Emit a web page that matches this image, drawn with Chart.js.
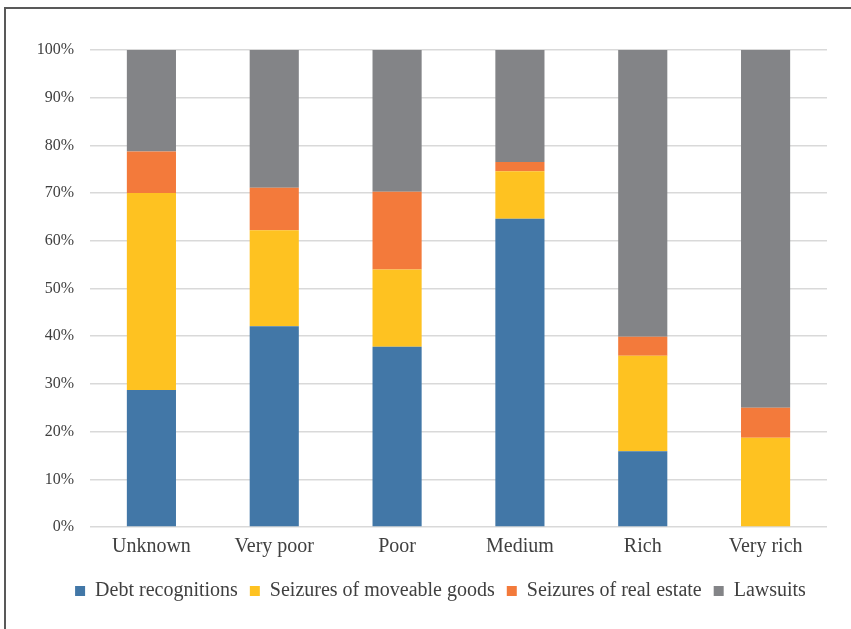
<!DOCTYPE html>
<html>
<head>
<meta charset="utf-8">
<script src="https://cdn.jsdelivr.net/npm/chart.js@4/dist/chart.umd.min.js"></script>
<style>
  html, body { margin: 0; padding: 0; background: #fff; overflow: hidden; }
  canvas { display: block; }
</style>
</head>
<body>
<canvas id="chart" width="851" height="629"></canvas>
<script>
// Wealth groups on the x axis
const categories = ['Unknown', 'Very poor', 'Poor', 'Medium', 'Rich', 'Very rich'];

// Share of each procedure type per wealth group (percent)
const debtRecognitions = [28.7, 42.1, 37.8, 64.6, 15.9, 0.0];
const moveableSeizures = [41.3, 20.1, 16.2, 10.0, 20.0, 18.7];
const realEstateSeizures = [8.7, 8.9, 16.3, 1.9, 4.0, 6.3];
const lawsuits = [21.3, 28.9, 29.7, 23.5, 60.1, 75.0];

const FONT = "'Liberation Serif', 'DejaVu Serif', serif";
const TEXT = '#404040';

const series = [
  { label: 'Debt recognitions', data: debtRecognitions, color: '#4277A7' },
  { label: 'Seizures of moveable goods', data: moveableSeizures, color: '#FEC221' },
  { label: 'Seizures of real estate', data: realEstateSeizures, color: '#F37A3B' },
  { label: 'Lawsuits', data: lawsuits, color: '#838487' }
];

// Thin frame along the top and left edges of the figure
const framePlugin = {
  id: 'frame',
  beforeDraw(chart) {
    const ctx = chart.ctx;
    ctx.save();
    ctx.strokeStyle = '#595959';
    ctx.lineWidth = 2;
    ctx.beginPath();
    ctx.moveTo(5, chart.height + 2);
    ctx.lineTo(5, 8);
    ctx.lineTo(chart.width + 2, 8);
    ctx.stroke();
    ctx.restore();
  }
};

// Centre the legend slightly left of the plot area's middle
const legendShift = {
  id: 'legendShift',
  afterLayout(chart) {
    const lg = chart.legend;
    if (!lg) return;
    const target = (chart.chartArea.left + chart.chartArea.right) / 2 - 18;
    const dx = target - (lg.left + lg.right) / 2;
    lg.left += dx;
    lg.right += dx;
  }
};

new Chart(document.getElementById('chart'), {
  type: 'bar',
  data: {
    labels: categories,
    datasets: series.map(s => ({
      label: s.label,
      data: s.data,
      backgroundColor: s.color,
      borderWidth: 0,
      categoryPercentage: 1.0,
      barPercentage: 0.4
    }))
  },
  plugins: [framePlugin, legendShift],
  options: {
    responsive: false,
    animation: false,
    devicePixelRatio: 1,
    layout: { padding: { left: 36, right: 24, top: 50, bottom: 18 } },
    plugins: {
      tooltip: { enabled: false },
      legend: {
        position: 'bottom',
        labels: {
          font: { family: FONT, size: 20 },
          color: TEXT,
          boxWidth: 10,
          boxHeight: 10,
          padding: 12
        }
      }
    },
    scales: {
      x: {
        stacked: true,
        afterFit: (scale) => { scale.height += 10; },
        grid: { display: false },
        border: { display: false },
        ticks: { font: { family: FONT, size: 20 }, color: TEXT, padding: 0 }
      },
      y: {
        stacked: true,
        min: 0,
        max: 100,
        afterFit: (scale) => { scale.width = 54; },
        grid: { color: '#D9D9D9', lineWidth: 1.5, drawTicks: false },
        border: { display: false },
        ticks: {
          stepSize: 10,
          font: { family: FONT, size: 16 },
          color: TEXT,
          padding: 16,
          callback: v => v + '%'
        }
      }
    }
  }
});
</script>
</body>
</html>
